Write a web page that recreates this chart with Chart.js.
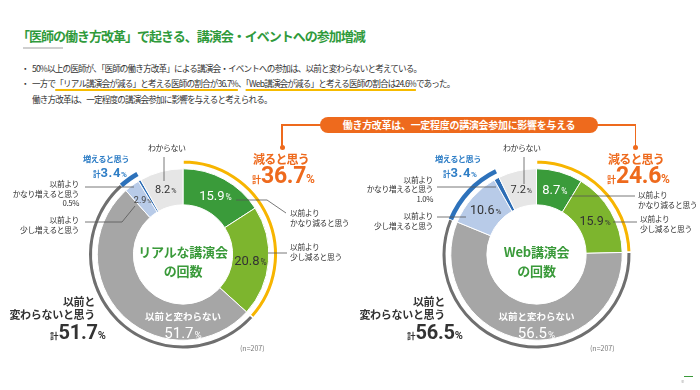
<!DOCTYPE html>
<html lang="ja">
<head>
<meta charset="utf-8">
<title>医師の働き方改革と講演会・イベントへの参加</title>
<script src="https://cdn.jsdelivr.net/npm/chart.js@4.4.1/dist/chart.umd.min.js"></script>
<style>
  body { margin: 0; background: #fff; }
  #page { position: relative; width: 700px; height: 390px; overflow: hidden;
          font-family: "Noto Sans CJK JP", "Noto Sans", sans-serif; color: #333; }
  canvas { position: absolute; top: 140px; }
  .t { position: absolute; white-space: nowrap; line-height: 1; }
  .title { color: #2f9a3b; font-weight: bold; font-size: 13px; letter-spacing: -1px; }
  .bl { font-size: 8.6px; letter-spacing: -0.85px; color: #333; }
  .ul { text-decoration: underline; text-decoration-color: #f6bb00; text-decoration-thickness: 2px; text-underline-offset: 2px; }
  .small { font-size: 7.8px; letter-spacing: -0.4px; color: #333; line-height: 9.5px; }
  .num { font-family: Roboto, "Noto Sans", sans-serif; }
  .orange { color: #ee6a1d; }
  .blue { color: #2f7ec6; }
  .center { color: #3a9a3a; font-weight: bold; font-size: 13px; letter-spacing: -0.2px; text-align: center; width: 120px; line-height: 19px; }
  .same { font-weight: bold; font-size: 11px; letter-spacing: -0.3px; text-align: right; line-height: 13px; }
  .n { font-size: 7px; color: #777; }
  .hl { position: absolute; background: #ee6a1d; }
</style>
</head>
<body>
<div id="page">
  <canvas id="chartReal" width="350" height="250" style="left:0"></canvas>
  <canvas id="chartWeb" width="350" height="250" style="left:350px"></canvas>

  <!-- タイトル・本文 -->
  <div class="t title" style="left:17px;top:28.5px">「医師の働き方改革」で起きる、講演会・イベントへの参加増減</div>
  <div style="position:absolute;left:23px;top:47px;width:40px;height:2px;background:#cfcfcf"></div>
  <div class="t bl" style="left:21px;top:63.5px">・</div>
  <div class="t bl" style="left:32px;top:63.5px">50%以上の医師が、「医師の働き方改革」による講演会・イベントへの参加は、以前と変わらないと考えている。</div>
  <div class="t bl" style="left:21px;top:78.5px">・</div>
  <div class="t bl" style="left:32px;top:78.5px">一方で<span class="ul">「リアル講演会が減る」と考える医師の割合が36.7%</span>、<span class="ul">「Web講演会が減る」と考える医師の割合は24.6%</span>であった。</div>
  <div class="t bl" style="left:32px;top:94.5px">働き方改革は、一定程度の講演会参加に影響を与えると考えられる。</div>

  <!-- 吹き出し -->
  <div style="position:absolute;left:320px;top:117px;width:278px;height:16px;border-radius:8px;background:#ee6a1d;color:#fff;font-weight:bold;font-size:10px;letter-spacing:-0.3px;line-height:16px;text-align:center">働き方改革は、一定程度の講演会参加に影響を与える</div>
  <div class="hl" style="left:281px;top:124px;width:40px;height:1.5px"></div>
  <div class="hl" style="left:281px;top:124px;width:1.5px;height:23px"></div>
  <div class="hl" style="left:279.5px;top:144.5px;width:5px;height:5px;border-radius:50%"></div>
  <div class="hl" style="left:597px;top:124px;width:39px;height:1.5px"></div>
  <div class="hl" style="left:634.5px;top:124px;width:1.5px;height:23px"></div>
  <div class="hl" style="left:632.5px;top:144.5px;width:5px;height:5px;border-radius:50%"></div>

  <!-- リアル講演会 -->
  <div class="t orange" style="left:253px;top:153px;font-weight:bold;font-size:12px;letter-spacing:-0.8px">減ると思う</div>
  <div class="t orange" style="left:252px;top:164px;font-weight:bold;line-height:24px"><span style="font-size:9px">計</span><span class="num" style="font-size:23px;letter-spacing:-0.3px">36.7</span><span class="num" style="font-size:12px">%</span></div>
  <div class="t blue" style="left:83px;top:154px;font-weight:bold;font-size:8.3px;letter-spacing:-0.6px">増えると思う</div>
  <div class="t blue" style="left:93px;top:163px;font-weight:bold;line-height:14px"><span style="font-size:7.5px">計</span><span class="num" style="font-size:13px;letter-spacing:0.6px">3.4</span><span class="num" style="font-size:8px">%</span></div>
  <div class="t" style="left:148px;top:144px;font-size:8px;letter-spacing:-0.5px">わからない</div>
  <div class="t small" style="right:621px;top:179px;text-align:right">以前より<br>かなり増えると思う<br>0.5%</div>
  <div class="t small" style="right:621px;top:215px;text-align:right">以前より<br>少し増えると思う</div>
  <div class="t small" style="left:290px;top:208px">以前より<br>かなり減ると思う</div>
  <div class="t small" style="left:290px;top:242px">以前より<br>少し減ると思う</div>
  <div class="t center" style="left:123px;top:242px">リアルな講演会<br>の回数</div>
  <div class="t same" style="right:605px;top:295px">以前と<br>変わらないと思う</div>
  <div class="t" style="right:594px;top:321px;font-weight:bold;line-height:22px"><span style="font-size:8.5px">計</span><span class="num" style="font-size:20px;letter-spacing:-0.2px">51.7</span><span class="num" style="font-size:11px">%</span></div>
  <div class="t n" style="left:240px;top:345px">(n=207)</div>

  <!-- Web講演会 -->
  <div class="t orange" style="left:608px;top:153px;font-weight:bold;font-size:12px;letter-spacing:-0.8px">減ると思う</div>
  <div class="t orange" style="left:607px;top:164px;font-weight:bold;line-height:24px"><span style="font-size:9px">計</span><span class="num" style="font-size:23px;letter-spacing:-0.3px">24.6</span><span class="num" style="font-size:12px">%</span></div>
  <div class="t blue" style="left:435px;top:154px;font-weight:bold;font-size:8.3px;letter-spacing:-0.6px">増えると思う</div>
  <div class="t blue" style="left:443px;top:163px;font-weight:bold;line-height:14px"><span style="font-size:7.5px">計</span><span class="num" style="font-size:13px;letter-spacing:0.6px">3.4</span><span class="num" style="font-size:8px">%</span></div>
  <div class="t" style="left:503px;top:144px;font-size:8px;letter-spacing:-0.5px">わからない</div>
  <div class="t small" style="right:267px;top:174.5px;text-align:right">以前より<br>かなり増えると思う<br>1.0%</div>
  <div class="t small" style="right:267px;top:211px;text-align:right">以前より<br>少し増えると思う</div>
  <div class="t small" style="left:638px;top:190px">以前より<br>かなり減ると思う</div>
  <div class="t small" style="left:640px;top:214px">以前より<br>少し減ると思う</div>
  <div class="t center" style="left:476.5px;top:242px">Web講演会<br>の回数</div>
  <div class="t same" style="right:255px;top:295px">以前と<br>変わらないと思う</div>
  <div class="t" style="right:237px;top:321px;font-weight:bold;line-height:22px"><span style="font-size:8.5px">計</span><span class="num" style="font-size:20px;letter-spacing:-0.2px">56.5</span><span class="num" style="font-size:11px">%</span></div>
  <div class="t n" style="left:590px;top:345px">(n=207)</div>

  <div style="position:absolute;left:684px;top:376px;width:9px;height:1px;background:#3a9a3a"></div>
  <div class="t" style="left:681px;top:379px;font-size:4px;color:#999">© </div>
</div>

<script>
// 回答（内側のリング）
const categories = ['以前よりかなり減ると思う', '以前より少し減ると思う', '以前と変わらない', '以前より少し増えると思う', '以前よりかなり増えると思う', 'わからない'];
const realValues = [15.9, 20.8, 51.7, 2.9, 0.5, 8.2];
const webValues  = [8.7, 15.9, 56.5, 10.6, 1.0, 7.2];

// まとめ（外側の細い弧）
const groupNames = ['減ると思う', '以前と変わらないと思う', '増えると思う', 'わからない'];
const realGroups = [36.7, 51.7, 3.4, 8.2];
const webGroups  = [24.6, 56.5, 11.6, 7.2];

const sliceColors = ['#3a9b3a', '#7db52e', '#a6a6a6', '#b8cbe8', '#2d6db5', '#e6e6e6'];
const groupColors = ['#f7b500', '#6f6f6f', '#2d72bb', 'rgba(0,0,0,0)'];
const groupBorders = ['#fff', '#fff', 'rgba(0,0,0,0)', 'rgba(0,0,0,0)'];

// 割合ラベル + 引き出し線
const sliceLabels = {
  id: 'sliceLabels',
  afterDatasetsDraw(chart, args, opts) {
    const ctx = chart.ctx;
    ctx.save();
    ctx.strokeStyle = '#555';
    ctx.lineWidth = 0.8;
    opts.leaders.forEach(pts => {
      ctx.beginPath();
      pts.forEach(([x, y], i) => {
        const px = x - opts.offsetX, py = y - 140;
        if (i) ctx.lineTo(px, py); else ctx.moveTo(px, py);
      });
      ctx.stroke();
    });

    const meta = chart.getDatasetMeta(2);
    const data = chart.data.datasets[2].data;
    meta.data.forEach((arc, i) => {
      const st = opts.styles[i];
      if (!st) return;
      let {x, y} = arc.tooltipPosition();
      if (st.bottom) {
        x = arc.x;
        y = arc.y + (arc.innerRadius + arc.outerRadius) / 2;
        ctx.fillStyle = st.color;
        ctx.font = 'bold 9.5px "Noto Sans CJK JP"';
        ctx.textAlign = 'center';
        ctx.textBaseline = 'middle';
        ctx.fillText(categories[i], x, y - 6);
        y += 10;
      }
      const num = data[i].toFixed(1);
      ctx.textAlign = 'left';
      ctx.textBaseline = 'alphabetic';
      ctx.font = st.size + 'px Roboto';
      const w1 = ctx.measureText(num).width;
      ctx.font = (st.size * 0.65) + 'px Roboto';
      const w2 = ctx.measureText('%').width;
      const x0 = x - (w1 + w2 + 1) / 2;
      const base = y + st.size * 0.36;
      ctx.fillStyle = st.color;
      ctx.font = st.size + 'px Roboto';
      ctx.fillText(num, x0, base);
      ctx.font = (st.size * 0.65) + 'px Roboto';
      ctx.fillText('%', x0 + w1 + 1, base);
    });
    ctx.restore();
  }
};

function makeDonut(id, values, groups, offsetX, padL, styles, leaders) {
  const ctx = document.getElementById(id).getContext('2d');
  return new Chart(ctx, {
    type: 'doughnut',
    data: {
      labels: categories,
      datasets: [
        { data: groups, backgroundColor: groupColors, borderColor: groupBorders, borderWidth: 1.5, weight: 4.5 },
        { data: [1], backgroundColor: ['rgba(0,0,0,0)'], borderWidth: 0, weight: 4.5 },
        { data: values, backgroundColor: sliceColors, borderColor: '#fff', borderWidth: 1, weight: 36 }
      ]
    },
    options: {
      responsive: false,
      animation: false,
      events: [],
      cutout: '52.38%',
      hoverOffset: 0,
      layout: { padding: { left: padL, right: 350 - padL - 191, top: 19, bottom: 40 } },
      plugins: {
        legend: { display: false },
        tooltip: { enabled: false },
        sliceLabels: { offsetX, styles, leaders }
      }
    },
    plugins: [sliceLabels]
  });
}

makeDonut('chartReal', realValues, realGroups, 0, 87.5, [
  {color: '#fff', size: 13},
  {color: '#333', size: 13},
  {color: '#fff', size: 15, bottom: true},
  {color: '#444', size: 9},
  null,
  {color: '#333', size: 11}
], [
  [[164, 157], [164, 181]],
  [[85, 187], [134, 187]],
  [[85, 222], [122, 222], [135, 206]],
  [[236, 200], [267, 200], [286, 213]],
  [[268, 253], [287, 253]]
]);

makeDonut('chartWeb', webValues, webGroups, 350, 91, [
  {color: '#fff', size: 13},
  {color: '#333', size: 12.5},
  {color: '#fff', size: 15, bottom: true},
  {color: '#333', size: 12.5},
  null,
  {color: '#333', size: 11}
], [
  [[524, 157], [524, 184]],
  [[437, 187], [496, 187]],
  [[437, 217], [466, 217]],
  [[569, 196], [635, 196]],
  [[613, 222], [637, 222]]
]);
</script>
</body>
</html>
